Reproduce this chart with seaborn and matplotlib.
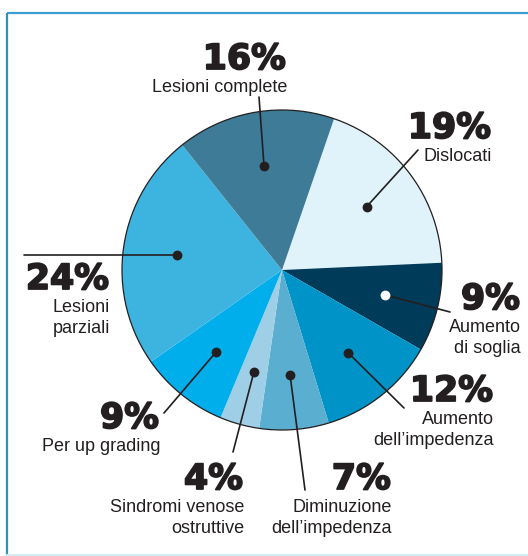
import numpy as np
import matplotlib
matplotlib.use("Agg")
import matplotlib.pyplot as plt
import matplotlib.patheffects as pe
import seaborn as sns
from matplotlib.patches import Circle

# ---------------- data ----------------
categories = ["Dislocati", "Aumento\ndi soglia", "Aumento\ndell’impedenza",
              "Diminuzione\ndell’impedenza", "Sindromi venose\nostruttive",
              "Per up grading", "Lesioni\nparziali", "Lesioni complete"]
values = [19, 9, 12, 7, 4, 9, 24, 16]
colors = ["#e0f2fa", "#003b59", "#0093c7", "#5aaecf", "#9ecfe7",
          "#00aeec", "#3db4e0", "#3e7b97"]
dot_colors = ["#231f20", "#ffffff", "#231f20", "#231f20", "#231f20",
              "#231f20", "#231f20", "#231f20"]

# ---------------- layout (pixels, y from top) ----------------
W, H = 528, 556
CX, CY, R = 282, 270, 160
label_right = [492, 521, 494, 392, 244, 160, 110, 287]
pct_base = [138, 309, 401, 489, 489, 428, 289, 69]
line_end = [(418, 150), (450, 312), (404, 408), (305, 490), (233, 452),
            (164, 413), (24, None), (259, 97)]

sns.set_theme(style="white")
plt.rcParams['font.family'] = ['Liberation Sans', 'DejaVu Sans']

fig = plt.figure(figsize=(W / 100, H / 100), dpi=100)
ax = fig.add_axes([0, 0, 1, 1])

def py(y):
    return H - y

wedges, _ = ax.pie(values, colors=colors, startangle=71, counterclock=False,
                   center=(CX, py(CY)), radius=R,
                   wedgeprops=dict(linewidth=0, antialiased=True))
ax.add_patch(Circle((CX, py(CY)), R, fill=False, edgecolor="#231f20",
                    linewidth=0.9, zorder=3))

ax.set_xlim(0, W)
ax.set_ylim(0, H)
ax.set_aspect('equal')
ax.axis('off')

# frame
ax.plot([7, W], [py(13), py(13)], color="#3a9fd0", lw=1.6, solid_capstyle='butt')
ax.plot([7, 7], [py(13), 0], color="#2a93c6", lw=1.6, solid_capstyle='butt')
ax.plot([7, W], [py(555), py(555)], color="#d3ecf6", lw=1.5)

heavy = [pe.withStroke(linewidth=1.3, foreground="#231f20")]

for i, w in enumerate(wedges):
    theta = np.deg2rad((w.theta1 + w.theta2) / 2)
    dx = CX + 0.66 * R * np.cos(theta)
    dy = py(CY) + 0.66 * R * np.sin(theta)
    ex, ey = line_end[i]
    ey = dy if ey is None else py(ey)
    ax.plot([dx, ex], [dy, ey], color="#231f20", lw=1.2, zorder=4)
    ax.scatter([dx], [dy], s=50, color=dot_colors[i], zorder=5, linewidths=0)

    xr = label_right[i]
    ax.text(xr - 1, py(pct_base[i]), f"{values[i]}%", ha='right', va='baseline',
            fontsize=25, fontweight='bold', color="#231f20",
            family=['DejaVu Sans'], path_effects=heavy)
    for j, line in enumerate(categories[i].split("\n")):
        yb = pct_base[i] + 23 + 21 * j
        ax.text(xr, py(yb), line, ha='right', va='baseline', fontsize=13,
                color="#231f20")

fig.savefig("out.png", dpi=100)
